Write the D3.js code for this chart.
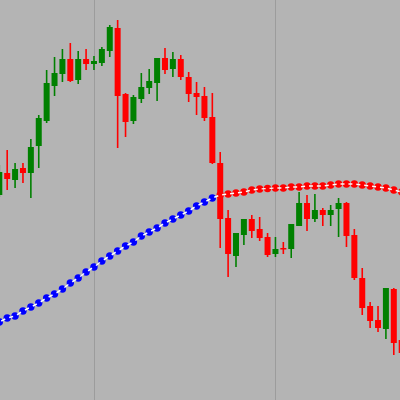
<!DOCTYPE html>
<html><head><meta charset="utf-8">
<script src="https://cdn.jsdelivr.net/npm/d3@7"></script>
<style>html,body{margin:0;padding:0;background:#b4b4b4;overflow:hidden}</style>
</head><body>
<svg id="chart" width="400" height="400"></svg>
<script>
const opens  = [112.05,112.27,112.20,112.32,112.27,112.54,112.79,113.14,113.26,113.41,113.20,113.41,113.36,113.37,113.49,113.72,113.06,112.79,113.01,113.12,113.17,113.42,113.31,113.41,113.23,113.07,113.04,112.83,112.37,111.82,111.44,111.65,111.81,111.71,111.63,111.46,111.52,111.51,111.74,111.97,111.81,111.90,111.85,111.91,111.97,111.65,111.22,110.94,110.80,110.71,111.11,110.60];
const highs  = [112.35,112.50,112.37,112.37,112.61,112.85,113.30,113.43,113.51,113.57,113.49,113.51,113.44,113.53,113.75,113.80,113.07,113.05,113.27,113.31,113.42,113.52,113.48,113.45,113.28,113.18,113.13,113.07,112.48,111.90,111.67,111.81,111.85,111.83,111.67,111.63,111.58,111.76,112.08,112.05,112.06,111.92,111.95,112.02,111.98,111.71,111.32,110.98,110.94,111.12,111.12,110.62];
const lows   = [112.03,112.10,112.12,112.17,112.02,112.32,112.77,113.04,113.18,113.18,113.16,113.30,113.30,113.34,113.43,112.52,112.63,112.76,112.97,113.06,112.99,113.26,113.23,113.20,112.98,112.85,112.79,112.36,111.52,111.23,111.33,111.55,111.62,111.59,111.43,111.43,111.46,111.42,111.74,111.69,111.78,111.74,111.74,111.63,111.53,111.20,110.85,110.72,110.68,110.61,110.45,110.44];
const closes = [112.28,112.21,112.31,112.27,112.53,112.82,113.17,113.27,113.41,113.19,113.41,113.36,113.39,113.51,113.73,113.04,112.78,113.03,113.13,113.19,113.42,113.30,113.41,113.23,113.06,113.03,112.82,112.37,111.81,111.46,111.67,111.81,111.69,111.62,111.45,111.51,111.51,111.76,111.97,111.81,111.90,111.85,111.90,111.97,111.64,111.22,110.92,110.79,110.72,111.12,110.57,110.47];
const movingAvg = [110.78,110.82,110.84,110.89,110.93,110.97,111.02,111.06,111.11,111.17,111.22,111.28,111.33,111.39,111.44,111.49,111.54,111.58,111.64,111.68,111.72,111.77,111.81,111.85,111.89,111.94,111.98,112.02,112.05,112.06,112.07,112.08,112.10,112.11,112.115,112.12,112.12,112.13,112.13,112.14,112.14,112.14,112.15,112.16,112.16,112.16,112.15,112.14,112.13,112.12,112.10,112.08];
const separators = [12, 35];

const W = 400, H = 400;
const n = closes.length;
const svg = d3.select('#chart');
svg.append('rect').attr('width', W).attr('height', H).attr('fill', '#b4b4b4');

const x = d3.scaleLinear().domain([0, n - 1]).range([-0.7, -0.7 + (n - 1) * 7.89]);
const y = d3.scaleLinear().domain([110, 114]).range([H, 0]);

svg.append('g').selectAll('line').data(separators).join('line')
  .attr('x1', d => Math.round(x(d)) + 0.5).attr('x2', d => Math.round(x(d)) + 0.5)
  .attr('y1', 0).attr('y2', H)
  .attr('stroke', '#9c9c9c').attr('stroke-width', 1);

const candles = d3.range(n).map(i => ({i, o: opens[i], h: highs[i], l: lows[i], c: closes[i]}));
const col = d => d.c >= d.o ? '#008000' : '#ff0000';

const g = svg.append('g');
g.selectAll('line.wick').data(candles).join('line').attr('class', 'wick')
  .attr('x1', d => x(d.i)).attr('x2', d => x(d.i))
  .attr('y1', d => y(d.h)).attr('y2', d => y(d.l))
  .attr('stroke', col).attr('stroke-width', 1.6);
g.selectAll('rect.body').data(candles).join('rect').attr('class', 'body')
  .attr('x', d => x(d.i) - 3).attr('width', 6)
  .attr('y', d => y(Math.max(d.o, d.c)))
  .attr('height', d => Math.max(1.5, Math.abs(y(d.o) - y(d.c))))
  .attr('fill', col);

const ma = d3.range(n).map(i => ({i, v: movingAvg[i], color: closes[i] > movingAvg[i] ? '#0000ff' : '#ff0000'}));
const mg = svg.append('g');
mg.selectAll('circle').data(ma).join('circle')
  .attr('cx', d => x(d.i)).attr('cy', d => y(d.v)).attr('r', 3.7)
  .attr('fill', d => d.color);
const pairs = d3.pairs(ma);
mg.selectAll('line').data(pairs).join('line')
  .attr('x1', ([a, b]) => x(a.i) + (x(b.i) - x(a.i)) * 0.25)
  .attr('y1', ([a, b]) => y(a.v) + (y(b.v) - y(a.v)) * 0.25)
  .attr('x2', ([a, b]) => x(a.i) + (x(b.i) - x(a.i)) * 0.75)
  .attr('y2', ([a, b]) => y(a.v) + (y(b.v) - y(a.v)) * 0.75)
  .attr('stroke', '#ffffff').attr('stroke-width', 1.5);
</script>
</body></html>
